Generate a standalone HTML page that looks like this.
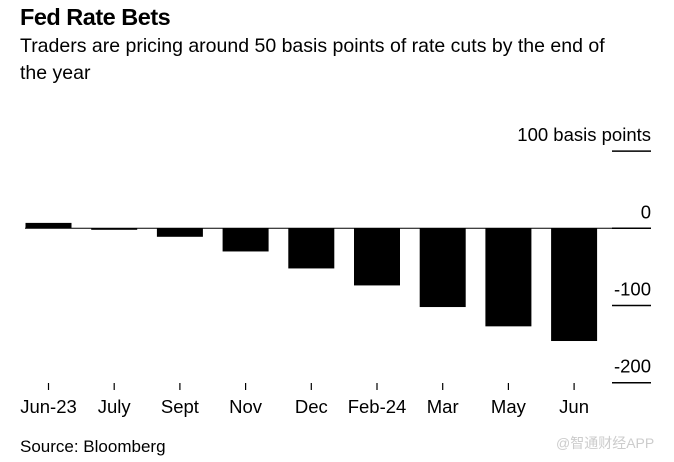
<!DOCTYPE html>
<html><head><meta charset="utf-8"><style>
body{margin:0;width:674px;height:462px;background:#fff;font-family:"Liberation Sans","Noto Sans CJK SC",sans-serif;overflow:hidden;position:relative}
.t{position:absolute;left:20px;top:4px;font-size:23.5px;font-weight:bold;color:#000;letter-spacing:-0.5px}
.s{position:absolute;left:20px;top:33px;font-size:19.5px;line-height:27px;color:#000;width:605px}
.src{position:absolute;left:20px;top:437px;font-size:17px;color:#000}
.wm{position:absolute;left:556px;top:433px;font-size:14px;color:#ccc}
</style></head><body>
<div class="t">Fed Rate Bets</div>
<div class="s">Traders are pricing around 50 basis points of rate cuts by the end of the year</div>
<svg id="c" width="674" height="462" style="position:absolute;left:0;top:0"></svg>
<div class="src">Source: Bloomberg</div>
<div class="wm">@智通财经APP</div>
<script>
const categories=["Jun-23","July","Sept","Nov","Dec","Feb-24","Mar","May","Jun"];
const values=[7,-1,-11,-30,-52,-74,-102,-127,-146];
const yTicks=[100,0,-100,-200];
const yTickLabels=["100 basis points","0","-100","-200"];
const NS="http://www.w3.org/2000/svg";
const svg=document.getElementById('c');
const y=v=>228.3-v*0.772;
const x=i=>48.5+i*65.7;
function mk(t,a){const e=document.createElementNS(NS,t);for(const k in a)e.setAttribute(k,a[k]);svg.appendChild(e);return e;}
yTicks.forEach((v,i)=>{
 const l=mk('line',{x1:612,x2:651,y1:y(v),y2:y(v),stroke:'#000','stroke-width':1.5});
 
 
 const t=mk('text',{x:651,y:y(v)-10,'text-anchor':'end','font-size':18.5,fill:'#000','font-family':'Liberation Sans, sans-serif'});
 t.textContent=yTickLabels[i];
 
 
});
const z=mk('line',{x1:25,x2:651,y1:y(0),y2:y(0),stroke:'#000','stroke-width':1});


categories.forEach((c,i)=>{
 const v=values[i];
 const r=mk('rect',{x:x(i)-23,width:46,y:Math.min(y(v),y(0)),height:Math.max(1.5,Math.abs(y(v)-y(0))),fill:'#000'});
 
 
 const tk=mk('line',{x1:x(i),x2:x(i),y1:383,y2:390,stroke:'#000','stroke-width':1.2});
 
 
 const t=mk('text',{x:x(i),y:413,'text-anchor':'middle','font-size':18.5,fill:'#000','font-family':'Liberation Sans, sans-serif'});
 t.textContent=c;
 
 
});
</script>
</body></html>
